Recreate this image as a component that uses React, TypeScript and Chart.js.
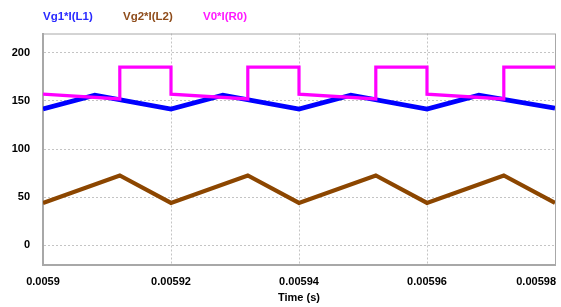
import React, { useEffect, useRef } from "react";
import { Chart, registerables } from "chart.js";

Chart.register(...registerables);

// ---- data ----
const seriesLabels = ["Vg1*I(L1)", "Vg2*I(L2)", "V0*I(R0)"];

const blueTimes = [0.0059, 0.0059081, 0.00592, 0.0059281, 0.00594, 0.0059481, 0.00596, 0.0059681, 0.00598];
const blueValues = [141.5, 156, 141.5, 156, 141.5, 156, 141.5, 156, 142.5];

const brownTimes = [0.0059, 0.005912, 0.00592, 0.005932, 0.00594, 0.005952, 0.00596, 0.005972, 0.00598];
const brownValues = [44, 72.5, 44, 72.5, 44, 72.5, 44, 72.5, 44];

const magentaTimes = [
  0.0059, 0.005912, 0.005912, 0.00592,
  0.00592, 0.005932, 0.005932, 0.00594,
  0.00594, 0.005952, 0.005952, 0.00596,
  0.00596, 0.005972, 0.005972, 0.00598,
];
const magentaValues = [
  157, 152, 185, 185,
  157, 152, 185, 185,
  157, 152, 185, 185,
  157, 152, 185, 185,
];

const xTickValues = [0.0059, 0.00592, 0.00594, 0.00596, 0.00598];
const xTickLabels = ["0.0059", "0.00592", "0.00594", "0.00596", "0.00598"];
const yTickValues = [0, 50, 100, 150, 200];
const yTickLabels = ["0", "50", "100", "150", "200"];
const xTitle = "Time (s)";

const FONT = 'Arial, "Liberation Sans", sans-serif';

const toPoints = (ts: number[], vs: number[]) => ts.map((t, i) => ({ x: t, y: vs[i] }));

const legendPlugin = {
  id: "topLegendText",
  afterDraw(chart: any) {
    const { ctx, chartArea } = chart;
    ctx.save();
    ctx.font = `bold 11.5px ${FONT}`;
    ctx.textBaseline = "middle";
    ctx.textAlign = "left";
    chart.data.datasets.forEach((ds: any, i: number) => {
      ctx.fillStyle = ds.legendColor || ds.borderColor;
      ctx.fillText(ds.label, chartArea.left + i * 80, 17);
    });
    ctx.restore();
  },
};

const framePlugin = {
  id: "frame",
  beforeDatasetsDraw(chart: any) {
    const { ctx, chartArea } = chart;
    ctx.save();
    ctx.strokeStyle = "#a8a8a8";
    ctx.lineWidth = 1;
    ctx.beginPath();
    ctx.moveTo(chartArea.left, chartArea.top + 0.5);
    ctx.lineTo(chartArea.right + 0.5, chartArea.top + 0.5);
    ctx.lineTo(chartArea.right + 0.5, chartArea.bottom);
    ctx.stroke();
    ctx.restore();
  },
  beforeDraw(chart: any) {
    const sx = chart.scales.x;
    if (!sx) return;
    const items = sx.getLabelItems();
    if (items && items.length) {
      const last = items[items.length - 1];
      last.options.textAlign = "right";
      last.options.translation = [chart.chartArea.right + 1, last.options.translation[1]];
    }
  },
};

export default function App() {
  const ref = useRef<HTMLCanvasElement | null>(null);

  useEffect(() => {
    if (!ref.current) return;
    const chart = new Chart(ref.current, {
      type: "line",
      data: {
        datasets: [
          {
            label: seriesLabels[0],
            data: toPoints(blueTimes, blueValues),
            borderColor: "#0000ff",
            legendColor: "#2a2aff",
            borderWidth: 4.8,
            pointRadius: 0,
            tension: 0,
            order: 1,
          } as any,
          {
            label: seriesLabels[1],
            data: toPoints(brownTimes, brownValues),
            borderColor: "#8c4600",
            legendColor: "#8f4d1c",
            borderWidth: 4.2,
            pointRadius: 0,
            tension: 0,
            order: 2,
          } as any,
          {
            label: seriesLabels[2],
            data: toPoints(magentaTimes, magentaValues),
            borderColor: "#ff00ff",
            legendColor: "#ff1aff",
            borderWidth: 3.2,
            pointRadius: 0,
            tension: 0,
            order: 0,
          } as any,
        ],
      },
      options: {
        animation: false,
        responsive: true,
        maintainAspectRatio: false,
        layout: { padding: { left: 0, right: 6, top: 33.5, bottom: 2 } },
        plugins: {
          legend: { display: false },
          tooltip: { enabled: false },
        },
        scales: {
          x: {
            type: "linear",
            min: 0.0059,
            max: 0.00598,
            afterBuildTicks: (scale: any) => {
              scale.ticks = xTickValues.map((v) => ({ value: v }));
            },
            afterFit: (scale: any) => {
              scale.paddingRight = 0;
              scale.height = 40.5;
            },
            ticks: {
              color: "#000",
              font: { family: FONT, size: 11, weight: "bold" },
              padding: 10.5,
              maxRotation: 0,
              autoSkip: false,
              callback: (_v: any, i: number) => xTickLabels[i],
            },
            grid: { color: "#c4c4c4", drawTicks: false, lineWidth: 1 },
            border: { color: "#a8a8a8", width: 2, dash: [2, 2] },
            title: {
              display: true,
              text: xTitle,
              color: "#000",
              font: { family: FONT, size: 11, weight: "bold" },
              padding: { top: 2, bottom: 0 },
            },
          },
          y: {
            type: "linear",
            min: -20,
            max: 220,
            afterBuildTicks: (scale: any) => {
              scale.ticks = yTickValues.map((v) => ({ value: v }));
            },
            afterFit: (scale: any) => {
              scale.width = 43;
            },
            ticks: {
              color: "#000",
              font: { family: FONT, size: 11, weight: "bold" },
              padding: 13,
              callback: (_v: any, i: number) => yTickLabels[i],
            },
            grid: { color: "#c4c4c4", drawTicks: false, lineWidth: 1 },
            border: { color: "#a8a8a8", width: 2, dash: [2, 2] },
          },
        },
      } as any,
      plugins: [legendPlugin, framePlugin],
    });
    return () => chart.destroy();
  }, []);

  return (
    <div style={{ position: "fixed", left: 0, top: 0, width: 561, height: 307, background: "#fff" }}>
      <canvas ref={ref} />
    </div>
  );
}
